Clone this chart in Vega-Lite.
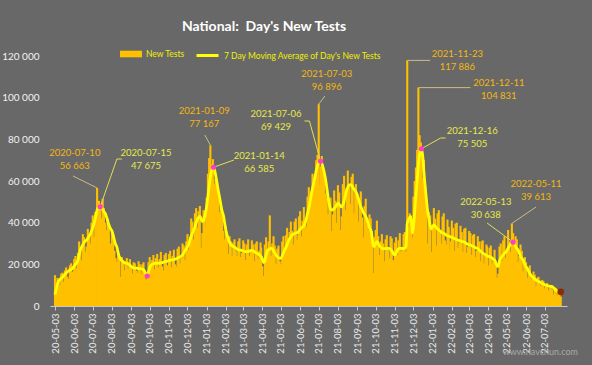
{
"$schema":"https://vega.github.io/schema/vega-lite/v6.json",
"width":517,"height":250,
"autosize":{"type":"none"},
"padding":{"left":50,"top":56,"right":25,"bottom":59},
"background":"#686868",
"title":{"text":"National:\u00a0 Day's New Tests","anchor":"start","frame":"group","dx":132,"offset":9,"font":"Lato","fontSize":14,"fontWeight":"bold","color":"#ffffff"},
"config":{"view":{"stroke":null},"font":"Lato","axisX":{"labelOverlap":false}},
"datasets":{
"main":[
{"d":"2020-05-03","v":14800,"m":5500},{"d":"2020-05-05","v":11000,"m":8000},{"d":"2020-05-07","v":13500,"m":10500},{"d":"2020-05-09","v":12500,"m":12000},{"d":"2020-05-11","v":10000,"m":12800},{"d":"2020-05-13","v":15500,"m":13300},{"d":"2020-05-15","v":16000,"m":13800},{"d":"2020-05-17","v":11500,"m":14500},{"d":"2020-05-19","v":17000,"m":15200},{"d":"2020-05-21","v":18500,"m":15800},{"d":"2020-05-23","v":14000,"m":16400},{"d":"2020-05-25","v":13000,"m":16800},{"d":"2020-05-27","v":19500,"m":17300},{"d":"2020-05-29","v":20500,"m":17600},{"d":"2020-05-31","v":15500,"m":18000},
{"d":"2020-06-01","v":16500,"m":18300},{"d":"2020-06-03","v":22500,"m":19200},{"d":"2020-06-05","v":24000,"m":20000},{"d":"2020-06-07","v":18000,"m":20600},{"d":"2020-06-09","v":25500,"m":22000},{"d":"2020-06-11","v":31000,"m":24500},{"d":"2020-06-13","v":27000,"m":27000},{"d":"2020-06-15","v":22000,"m":28300},{"d":"2020-06-17","v":34500,"m":29500},{"d":"2020-06-19","v":33000,"m":30500},{"d":"2020-06-21","v":26000,"m":31200},{"d":"2020-06-23","v":28500,"m":31700},{"d":"2020-06-25","v":37000,"m":32500},{"d":"2020-06-27","v":33500,"m":33500},{"d":"2020-06-29","v":30000,"m":34500},
{"d":"2020-07-01","v":40000,"m":36000},{"d":"2020-07-03","v":43500,"m":37500},{"d":"2020-07-05","v":33000,"m":39500},{"d":"2020-07-07","v":45000,"m":42000},{"d":"2020-07-10","v":56663,"m":46000},{"d":"2020-07-11","v":44000,"m":46800},{"d":"2020-07-13","v":50500,"m":47300},{"d":"2020-07-15","v":49000,"m":47675},{"d":"2020-07-17","v":42000,"m":47400},{"d":"2020-07-19","v":51500,"m":46300},{"d":"2020-07-21","v":47000,"m":45300},{"d":"2020-07-23","v":40000,"m":44600},{"d":"2020-07-25","v":36500,"m":43000},{"d":"2020-07-27","v":42000,"m":41000},{"d":"2020-07-29","v":38500,"m":39000},{"d":"2020-07-31","v":30000,"m":37500},
{"d":"2020-08-01","v":28000,"m":37000},{"d":"2020-08-03","v":35000,"m":36000},{"d":"2020-08-05","v":31000,"m":34000},{"d":"2020-08-07","v":26500,"m":31500},{"d":"2020-08-09","v":23000,"m":29500},{"d":"2020-08-11","v":21000,"m":28300},{"d":"2020-08-13","v":26000,"m":25500},{"d":"2020-08-15","v":24000,"m":23500},{"d":"2020-08-17","v":14000,"m":22500},{"d":"2020-08-19","v":23500,"m":21800},{"d":"2020-08-21","v":22000,"m":21200},{"d":"2020-08-23","v":17000,"m":20800},{"d":"2020-08-25","v":21500,"m":20600},{"d":"2020-08-27","v":23000,"m":20500},{"d":"2020-08-29","v":18000,"m":20200},{"d":"2020-08-31","v":21000,"m":19800},
{"d":"2020-09-01","v":22500,"m":19500},{"d":"2020-09-03","v":19500,"m":19000},{"d":"2020-09-05","v":15500,"m":18600},{"d":"2020-09-07","v":21000,"m":18300},{"d":"2020-09-09","v":20500,"m":18200},{"d":"2020-09-11","v":17000,"m":18200},{"d":"2020-09-13","v":16000,"m":18100},{"d":"2020-09-15","v":21500,"m":18000},{"d":"2020-09-17","v":20000,"m":17900},{"d":"2020-09-19","v":15500,"m":17800},{"d":"2020-09-21","v":20000,"m":17700},{"d":"2020-09-23","v":21000,"m":17500},{"d":"2020-09-25","v":17000,"m":16500},{"d":"2020-09-27","v":12500,"m":15300},{"d":"2020-09-29","v":15500,"m":14400},
{"d":"2020-10-01","v":21000,"m":16200},{"d":"2020-10-03","v":23500,"m":18500},{"d":"2020-10-05","v":19500,"m":19500},{"d":"2020-10-07","v":22000,"m":20000},{"d":"2020-10-09","v":24500,"m":20300},{"d":"2020-10-11","v":17500,"m":20500},{"d":"2020-10-13","v":23000,"m":20600},{"d":"2020-10-15","v":25000,"m":20600},{"d":"2020-10-17","v":18500,"m":20500},{"d":"2020-10-19","v":22500,"m":20600},{"d":"2020-10-21","v":26000,"m":20700},{"d":"2020-10-23","v":19000,"m":20800},{"d":"2020-10-25","v":17000,"m":21000},{"d":"2020-10-27","v":24500,"m":21200},{"d":"2020-10-29","v":25500,"m":21400},{"d":"2020-10-31","v":19500,"m":21500},
{"d":"2020-11-01","v":18500,"m":21600},{"d":"2020-11-03","v":25000,"m":21800},{"d":"2020-11-05","v":26500,"m":22000},{"d":"2020-11-07","v":18500,"m":22100},{"d":"2020-11-09","v":24000,"m":22200},{"d":"2020-11-11","v":27000,"m":22300},{"d":"2020-11-13","v":20000,"m":22500},{"d":"2020-11-15","v":19000,"m":22700},{"d":"2020-11-17","v":27500,"m":23000},{"d":"2020-11-19","v":28500,"m":23300},{"d":"2020-11-21","v":20500,"m":23600},{"d":"2020-11-23","v":23000,"m":24000},{"d":"2020-11-25","v":30000,"m":24500},{"d":"2020-11-27","v":29000,"m":25500},{"d":"2020-11-29","v":22000,"m":26500},
{"d":"2020-12-01","v":31000,"m":27500},{"d":"2020-12-03","v":34500,"m":28500},{"d":"2020-12-05","v":27000,"m":29500},{"d":"2020-12-07","v":33000,"m":31500},{"d":"2020-12-09","v":42000,"m":33500},{"d":"2020-12-11","v":40500,"m":35000},{"d":"2020-12-13","v":32000,"m":36500},{"d":"2020-12-15","v":44500,"m":38000},{"d":"2020-12-17","v":47000,"m":40000},{"d":"2020-12-19","v":37500,"m":41500},{"d":"2020-12-21","v":45500,"m":42500},{"d":"2020-12-23","v":48000,"m":43000},{"d":"2020-12-25","v":28000,"m":42000},{"d":"2020-12-27","v":35000,"m":40500},{"d":"2020-12-29","v":46000,"m":41000},{"d":"2020-12-31","v":42000,"m":43000},
{"d":"2021-01-01","v":38000,"m":44500},{"d":"2021-01-03","v":52000,"m":48000},{"d":"2021-01-05","v":63500,"m":52500},{"d":"2021-01-07","v":71000,"m":57500},{"d":"2021-01-09","v":77167,"m":62000},{"d":"2021-01-11","v":68000,"m":65000},{"d":"2021-01-13","v":70500,"m":66300},{"d":"2021-01-14","v":61000,"m":66585},{"d":"2021-01-16","v":58500,"m":65000},{"d":"2021-01-18","v":62000,"m":62000},{"d":"2021-01-20","v":59500,"m":58500},{"d":"2021-01-22","v":52000,"m":55000},{"d":"2021-01-24","v":45000,"m":52000},{"d":"2021-01-26","v":47500,"m":48500},{"d":"2021-01-28","v":43000,"m":45500},{"d":"2021-01-30","v":36000,"m":43500},
{"d":"2021-02-01","v":32000,"m":40000},{"d":"2021-02-03","v":38000,"m":36500},{"d":"2021-02-05","v":34500,"m":34000},{"d":"2021-02-07","v":25000,"m":32000},{"d":"2021-02-09","v":33500,"m":30500},{"d":"2021-02-11","v":31000,"m":29500},{"d":"2021-02-13","v":24000,"m":29000},{"d":"2021-02-15","v":30500,"m":28500},{"d":"2021-02-17","v":32000,"m":28300},{"d":"2021-02-19","v":26500,"m":27800},{"d":"2021-02-21","v":24000,"m":27300},{"d":"2021-02-23","v":31000,"m":27000},{"d":"2021-02-25","v":32500,"m":26900},{"d":"2021-02-27","v":23500,"m":26800},
{"d":"2021-03-01","v":25500,"m":26600},{"d":"2021-03-03","v":31500,"m":26400},{"d":"2021-03-05","v":30000,"m":26200},{"d":"2021-03-07","v":22000,"m":26100},{"d":"2021-03-09","v":29500,"m":26100},{"d":"2021-03-11","v":32000,"m":26200},{"d":"2021-03-13","v":24000,"m":26400},{"d":"2021-03-15","v":27000,"m":26600},{"d":"2021-03-17","v":31500,"m":26700},{"d":"2021-03-19","v":29500,"m":26500},{"d":"2021-03-21","v":21500,"m":26000},{"d":"2021-03-23","v":30000,"m":25600},{"d":"2021-03-25","v":31000,"m":25300},{"d":"2021-03-27","v":22500,"m":25000},{"d":"2021-03-29","v":26500,"m":24600},{"d":"2021-03-31","v":30500,"m":24000},
{"d":"2021-04-01","v":28000,"m":23700},{"d":"2021-04-03","v":19000,"m":22500},{"d":"2021-04-05","v":14500,"m":20800},{"d":"2021-04-07","v":29500,"m":21800},{"d":"2021-04-09","v":33000,"m":24500},{"d":"2021-04-11","v":27500,"m":26500},{"d":"2021-04-13","v":31000,"m":27000},{"d":"2021-04-15","v":43500,"m":27500},{"d":"2021-04-17","v":24000,"m":27700},{"d":"2021-04-19","v":30000,"m":27500},{"d":"2021-04-21","v":33500,"m":26500},{"d":"2021-04-23","v":29000,"m":25500},{"d":"2021-04-25","v":20000,"m":24500},{"d":"2021-04-27","v":27500,"m":23700},{"d":"2021-04-29","v":29000,"m":23200},
{"d":"2021-05-01","v":21500,"m":22900},{"d":"2021-05-03","v":20000,"m":23000},{"d":"2021-05-05","v":31000,"m":24000},{"d":"2021-05-07","v":33500,"m":25500},{"d":"2021-05-09","v":26000,"m":26800},{"d":"2021-05-11","v":34000,"m":28000},{"d":"2021-05-13","v":37500,"m":29500},{"d":"2021-05-15","v":30000,"m":31000},{"d":"2021-05-17","v":35500,"m":32300},{"d":"2021-05-19","v":40500,"m":33200},{"d":"2021-05-21","v":36000,"m":34000},{"d":"2021-05-23","v":29500,"m":34500},{"d":"2021-05-25","v":40500,"m":34800},{"d":"2021-05-27","v":42000,"m":35000},{"d":"2021-05-29","v":31500,"m":35200},{"d":"2021-05-31","v":34000,"m":35500},
{"d":"2021-06-01","v":43000,"m":36000},{"d":"2021-06-03","v":45500,"m":36800},{"d":"2021-06-05","v":33500,"m":37500},{"d":"2021-06-07","v":41000,"m":38000},{"d":"2021-06-09","v":47500,"m":38500},{"d":"2021-06-11","v":40000,"m":40000},{"d":"2021-06-13","v":38000,"m":42000},{"d":"2021-06-15","v":52500,"m":44500},{"d":"2021-06-17","v":57000,"m":47000},{"d":"2021-06-19","v":49000,"m":50000},{"d":"2021-06-21","v":55000,"m":53500},{"d":"2021-06-23","v":63500,"m":56500},{"d":"2021-06-25","v":60000,"m":59000},{"d":"2021-06-27","v":59000,"m":62000},{"d":"2021-06-29","v":70000,"m":65000},
{"d":"2021-07-01","v":72500,"m":67500},{"d":"2021-07-03","v":96896,"m":68800},{"d":"2021-07-05","v":58000,"m":69200},{"d":"2021-07-06","v":67000,"m":69429},{"d":"2021-07-08","v":72000,"m":68500},{"d":"2021-07-10","v":65000,"m":66500},{"d":"2021-07-12","v":60500,"m":64000},{"d":"2021-07-14","v":54000,"m":61000},{"d":"2021-07-16","v":52000,"m":57000},{"d":"2021-07-18","v":44000,"m":52500},{"d":"2021-07-20","v":49500,"m":49000},{"d":"2021-07-22","v":52000,"m":46500},{"d":"2021-07-24","v":36000,"m":46000},{"d":"2021-07-26","v":44000,"m":46300},{"d":"2021-07-28","v":55500,"m":46800},{"d":"2021-07-30","v":50500,"m":47500},
{"d":"2021-08-01","v":40000,"m":48500},{"d":"2021-08-03","v":58000,"m":49300},{"d":"2021-08-05","v":54500,"m":48800},{"d":"2021-08-07","v":36500,"m":48000},{"d":"2021-08-09","v":43000,"m":47600},{"d":"2021-08-11","v":58500,"m":48500},{"d":"2021-08-13","v":62500,"m":50500},{"d":"2021-08-15","v":46000,"m":53000},{"d":"2021-08-17","v":56500,"m":55500},{"d":"2021-08-19","v":65000,"m":57000},{"d":"2021-08-21","v":58000,"m":58000},{"d":"2021-08-23","v":49000,"m":58200},{"d":"2021-08-25","v":62000,"m":58000},{"d":"2021-08-27","v":63500,"m":57000},{"d":"2021-08-29","v":44500,"m":56000},{"d":"2021-08-31","v":55000,"m":55300},
{"d":"2021-09-01","v":58500,"m":54900},{"d":"2021-09-03","v":53000,"m":53500},{"d":"2021-09-05","v":40500,"m":51500},{"d":"2021-09-07","v":52000,"m":49500},{"d":"2021-09-09","v":55000,"m":47600},{"d":"2021-09-11","v":42500,"m":46300},{"d":"2021-09-13","v":33000,"m":45000},{"d":"2021-09-15","v":48000,"m":44000},{"d":"2021-09-17","v":51500,"m":42900},{"d":"2021-09-19","v":39000,"m":41500},{"d":"2021-09-21","v":36500,"m":39500},{"d":"2021-09-23","v":44000,"m":37500},{"d":"2021-09-25","v":42000,"m":36500},{"d":"2021-09-27","v":36000,"m":33500},{"d":"2021-09-29","v":15800,"m":29000},
{"d":"2021-10-01","v":33000,"m":28500},{"d":"2021-10-03","v":36500,"m":30000},{"d":"2021-10-05","v":41000,"m":30900},{"d":"2021-10-07","v":33500,"m":30000},{"d":"2021-10-09","v":24500,"m":29000},{"d":"2021-10-11","v":31000,"m":28300},{"d":"2021-10-13","v":34500,"m":27700},{"d":"2021-10-15","v":30000,"m":27500},{"d":"2021-10-17","v":21500,"m":27500},{"d":"2021-10-19","v":32000,"m":27600},{"d":"2021-10-21","v":34000,"m":27700},{"d":"2021-10-23","v":27000,"m":27700},{"d":"2021-10-25","v":23000,"m":27600},{"d":"2021-10-27","v":33500,"m":27300},{"d":"2021-10-29","v":32500,"m":26500},{"d":"2021-10-31","v":22000,"m":25500},
{"d":"2021-11-01","v":17500,"m":24800},{"d":"2021-11-03","v":30500,"m":24500},{"d":"2021-11-05","v":33000,"m":25500},{"d":"2021-11-07","v":24500,"m":26800},{"d":"2021-11-09","v":31500,"m":27500},{"d":"2021-11-11","v":35000,"m":27700},{"d":"2021-11-13","v":26000,"m":27700},{"d":"2021-11-15","v":27500,"m":27600},{"d":"2021-11-17","v":34500,"m":27600},{"d":"2021-11-19","v":35500,"m":27700},{"d":"2021-11-21","v":26000,"m":28500},{"d":"2021-11-23","v":117886,"m":39500},{"d":"2021-11-25","v":38000,"m":41500},{"d":"2021-11-27","v":44500,"m":42500},{"d":"2021-11-29","v":37000,"m":43000},
{"d":"2021-12-01","v":33000,"m":35000},{"d":"2021-12-03","v":52500,"m":38000},{"d":"2021-12-05","v":60000,"m":45000},{"d":"2021-12-07","v":66500,"m":53000},{"d":"2021-12-09","v":75000,"m":60000},{"d":"2021-12-11","v":104831,"m":68000},{"d":"2021-12-13","v":82000,"m":73000},{"d":"2021-12-15","v":78500,"m":75200},{"d":"2021-12-16","v":72000,"m":75505},{"d":"2021-12-18","v":61500,"m":72000},{"d":"2021-12-20","v":70000,"m":64000},{"d":"2021-12-22","v":58000,"m":57300},{"d":"2021-12-24","v":46000,"m":51000},{"d":"2021-12-26","v":30000,"m":45500},{"d":"2021-12-28","v":45000,"m":42000},{"d":"2021-12-30","v":43500,"m":38500},
{"d":"2022-01-01","v":26000,"m":37000},{"d":"2022-01-03","v":39000,"m":38000},{"d":"2022-01-05","v":47000,"m":38900},{"d":"2022-01-07","v":42000,"m":38500},{"d":"2022-01-09","v":29000,"m":37500},{"d":"2022-01-11","v":44500,"m":37000},{"d":"2022-01-13","v":46000,"m":36500},{"d":"2022-01-15","v":36500,"m":36000},{"d":"2022-01-17","v":30000,"m":35500},{"d":"2022-01-19","v":43000,"m":35000},{"d":"2022-01-21","v":44500,"m":34900},{"d":"2022-01-23","v":31500,"m":34500},{"d":"2022-01-25","v":29500,"m":34000},{"d":"2022-01-27","v":41500,"m":33700},{"d":"2022-01-29","v":38000,"m":33500},{"d":"2022-01-31","v":27000,"m":33300},
{"d":"2022-02-01","v":31000,"m":33200},{"d":"2022-02-03","v":41000,"m":33000},{"d":"2022-02-05","v":37500,"m":32700},{"d":"2022-02-07","v":26500,"m":32400},{"d":"2022-02-09","v":39500,"m":32100},{"d":"2022-02-11","v":40000,"m":31800},{"d":"2022-02-13","v":28000,"m":31600},{"d":"2022-02-15","v":30500,"m":31400},{"d":"2022-02-17","v":38500,"m":31200},{"d":"2022-02-19","v":35500,"m":31000},{"d":"2022-02-21","v":26000,"m":30900},{"d":"2022-02-23","v":37000,"m":30700},{"d":"2022-02-25","v":37500,"m":30300},{"d":"2022-02-27","v":25500,"m":29900},
{"d":"2022-03-01","v":28500,"m":29600},{"d":"2022-03-03","v":36000,"m":29400},{"d":"2022-03-05","v":35000,"m":29300},{"d":"2022-03-07","v":24500,"m":29000},{"d":"2022-03-09","v":34000,"m":28700},{"d":"2022-03-11","v":34500,"m":28400},{"d":"2022-03-13","v":23500,"m":28000},{"d":"2022-03-15","v":26500,"m":27800},{"d":"2022-03-17","v":33500,"m":27500},{"d":"2022-03-19","v":31000,"m":27000},{"d":"2022-03-21","v":21500,"m":26400},{"d":"2022-03-23","v":31000,"m":25900},{"d":"2022-03-25","v":31500,"m":25400},{"d":"2022-03-27","v":20500,"m":25000},{"d":"2022-03-29","v":24000,"m":24600},{"d":"2022-03-31","v":29500,"m":24300},
{"d":"2022-04-01","v":28500,"m":24000},{"d":"2022-04-03","v":19500,"m":23800},{"d":"2022-04-05","v":28000,"m":23700},{"d":"2022-04-07","v":29000,"m":23500},{"d":"2022-04-09","v":20500,"m":23000},{"d":"2022-04-11","v":22000,"m":22500},{"d":"2022-04-13","v":27000,"m":22100},{"d":"2022-04-15","v":19000,"m":20800},{"d":"2022-04-17","v":13500,"m":19200},{"d":"2022-04-19","v":15500,"m":19000},{"d":"2022-04-21","v":28500,"m":21500},{"d":"2022-04-23","v":30000,"m":23000},{"d":"2022-04-25","v":21500,"m":23800},{"d":"2022-04-27","v":31500,"m":24500},{"d":"2022-04-29","v":33500,"m":25300},
{"d":"2022-05-01","v":23000,"m":25800},{"d":"2022-05-03","v":26500,"m":26500},{"d":"2022-05-05","v":36500,"m":27800},{"d":"2022-05-07","v":31000,"m":28800},{"d":"2022-05-09","v":26000,"m":29700},{"d":"2022-05-11","v":39613,"m":30300},{"d":"2022-05-13","v":35000,"m":30638},{"d":"2022-05-15","v":28000,"m":30000},{"d":"2022-05-17","v":33500,"m":28500},{"d":"2022-05-19","v":32000,"m":27500},{"d":"2022-05-21","v":21000,"m":26900},{"d":"2022-05-23","v":24000,"m":25500},{"d":"2022-05-25","v":29500,"m":24000},{"d":"2022-05-27","v":26500,"m":22800},{"d":"2022-05-29","v":16500,"m":22100},{"d":"2022-05-31","v":20500,"m":20500},
{"d":"2022-06-01","v":23500,"m":19800},{"d":"2022-06-03","v":21000,"m":18800},{"d":"2022-06-05","v":13500,"m":17800},{"d":"2022-06-07","v":18500,"m":16800},{"d":"2022-06-09","v":19500,"m":15600},{"d":"2022-06-11","v":13000,"m":14700},{"d":"2022-06-13","v":14500,"m":14100},{"d":"2022-06-15","v":16500,"m":13500},{"d":"2022-06-17","v":15000,"m":12900},{"d":"2022-06-19","v":9500,"m":12400},{"d":"2022-06-21","v":13500,"m":12100},{"d":"2022-06-23","v":14000,"m":11800},{"d":"2022-06-25","v":10500,"m":11500},{"d":"2022-06-27","v":9500,"m":11100},{"d":"2022-06-29","v":12500,"m":10800},
{"d":"2022-07-01","v":12000,"m":10500},{"d":"2022-07-03","v":8500,"m":10200},{"d":"2022-07-05","v":10500,"m":10000},{"d":"2022-07-07","v":11000,"m":9800},{"d":"2022-07-09","v":7500,"m":9600},{"d":"2022-07-11","v":9000,"m":9500},{"d":"2022-07-13","v":10000,"m":9400},{"d":"2022-07-15","v":8000,"m":9300},{"d":"2022-07-17","v":5500,"m":8800},{"d":"2022-07-19","v":9000,"m":8200},{"d":"2022-07-21","v":8500,"m":7800},{"d":"2022-07-23","v":5000,"m":7200},{"d":"2022-07-25","v":7000,"m":7000},{"d":"2022-07-27","v":6500,"m":6900},{"d":"2022-07-29","v":4500,"m":6800}
],
"leaders":[
{"g":1,"k":"b","d":"2020-07-10","v":56663},{"g":1,"k":"b","d":"2020-06-01","v":62400},
{"g":2,"k":"a","d":"2020-07-15","v":47675},{"g":2,"k":"a","d":"2020-08-11","v":70560},{"g":2,"k":"a","d":"2020-08-19","v":70560},
{"g":3,"k":"b","d":"2021-01-09","v":77167},{"g":3,"k":"b","d":"2020-12-31","v":82080},
{"g":4,"k":"a","d":"2021-01-14","v":66585},{"g":4,"k":"a","d":"2021-02-16","v":70080},
{"g":5,"k":"b","d":"2021-07-03","v":96896},{"g":5,"k":"b","d":"2021-07-13","v":100800},
{"g":6,"k":"a","d":"2021-07-06","v":69429},{"g":6,"k":"a","d":"2021-06-18","v":88800},{"g":6,"k":"a","d":"2021-06-10","v":88800},
{"g":7,"k":"b","d":"2021-11-23","v":117886},{"g":7,"k":"b","d":"2021-12-30","v":117886},
{"g":8,"k":"b","d":"2021-12-11","v":104831},{"g":8,"k":"b","d":"2022-03-05","v":104831},
{"g":9,"k":"a","d":"2021-12-16","v":75505},{"g":9,"k":"a","d":"2022-01-16","v":80640},{"g":9,"k":"a","d":"2022-01-24","v":80640},
{"g":10,"k":"a","d":"2022-05-13","v":30638},{"g":10,"k":"a","d":"2022-04-01","v":39840},
{"g":11,"k":"b","d":"2022-05-11","v":39613},{"g":11,"k":"b","d":"2022-06-19","v":47520}
],
"dots":[
{"d":"2020-07-15","m":47675,"k":"a"},{"d":"2020-09-29","m":14400,"k":"a"},{"d":"2021-01-14","m":66585,"k":"a"},{"d":"2021-07-06","m":69429,"k":"a"},{"d":"2021-12-16","m":75505,"k":"a"},{"d":"2022-05-13","m":30638,"k":"a"},{"d":"2022-07-29","m":6800,"k":"last"}
],
"labels":[
{"d":"2020-06-04","v":75840,"k":"b","t":"2020-07-10\n56 663"},
{"d":"2020-09-27","v":75840,"k":"a","t":"2020-07-15\n47 675"},
{"d":"2020-12-30","v":96000,"k":"b","t":"2021-01-09\n77 167"},
{"d":"2021-03-29","v":74400,"k":"a","t":"2021-01-14\n66 585"},
{"d":"2021-07-16","v":113760,"k":"b","t":"2021-07-03\n96 896"},
{"d":"2021-04-25","v":94560,"k":"a","t":"2021-07-06\n69 429"},
{"d":"2022-02-12","v":123360,"k":"b","t":"2021-11-23\n117 886"},
{"d":"2022-04-20","v":109440,"k":"b","t":"2021-12-11\n104 831"},
{"d":"2022-03-08","v":86400,"k":"a","t":"2021-12-16\n75 505"},
{"d":"2022-03-30","v":52320,"k":"a","t":"2022-05-13\n30 638"},
{"d":"2022-06-19","v":60960,"k":"b","t":"2022-05-11\n39 613"}
],
"wm":[{"d":"2022-06-26","v":-22000,"t":"www.navchun.com"}]
},
"encoding":{
 "x":{"field":"d","type":"temporal",
  "scale":{"type":"utc","domain":[{"year":2020,"month":5,"date":3,"utc":true},{"year":2022,"month":7,"date":31,"utc":true}],"nice":false},
  "axis":{"title":null,"grid":false,"format":"%y-%m-%d","labelAngle":-90,"labelColor":"#e8e8e8","labelFontSize":9.5,"labelFont":"Lato","domainColor":"#c8c8c8","tickColor":"#c8c8c8","tickSize":4,"labelPadding":3,"labelOverlap":false,"labelSeparation":0,
   "values":[{"year":2020,"month":5,"date":3,"utc":true},{"year":2020,"month":6,"date":3,"utc":true},{"year":2020,"month":7,"date":3,"utc":true},{"year":2020,"month":8,"date":3,"utc":true},{"year":2020,"month":9,"date":3,"utc":true},{"year":2020,"month":10,"date":3,"utc":true},{"year":2020,"month":11,"date":3,"utc":true},{"year":2020,"month":12,"date":3,"utc":true},{"year":2021,"month":1,"date":3,"utc":true},{"year":2021,"month":2,"date":3,"utc":true},{"year":2021,"month":3,"date":3,"utc":true},{"year":2021,"month":4,"date":3,"utc":true},{"year":2021,"month":5,"date":3,"utc":true},{"year":2021,"month":6,"date":3,"utc":true},{"year":2021,"month":7,"date":3,"utc":true},{"year":2021,"month":8,"date":3,"utc":true},{"year":2021,"month":9,"date":3,"utc":true},{"year":2021,"month":10,"date":3,"utc":true},{"year":2021,"month":11,"date":3,"utc":true},{"year":2021,"month":12,"date":3,"utc":true},{"year":2022,"month":1,"date":3,"utc":true},{"year":2022,"month":2,"date":3,"utc":true},{"year":2022,"month":3,"date":3,"utc":true},{"year":2022,"month":4,"date":3,"utc":true},{"year":2022,"month":5,"date":3,"utc":true},{"year":2022,"month":6,"date":3,"utc":true},{"year":2022,"month":7,"date":3,"utc":true}]}}
},
"layer":[
{"data":{"name":"main"},
 "mark":{"type":"bar","width":2.1,"color":"#ffc000"},
 "encoding":{
  "y":{"field":"v","type":"quantitative",
   "scale":{"domain":[0,120000],"nice":false},
   "axis":{"title":null,"grid":false,"ticks":false,"domain":false,"values":[0,20000,40000,60000,80000,100000,120000],"labelExpr":"replace(format(datum.value, ','), ',', ' ')","labelColor":"#f2f2f2","labelFontSize":10,"labelFont":"Lato","labelPadding":11}},
  "color":{"datum":"New Tests","scale":{"range":["#ffc000"]},
   "legend":{"title":null,"orient":"none","legendX":70,"legendY":-13,"symbolType":"M-1,-0.3H1V0.3H-1Z","symbolSize":484,"symbolStrokeWidth":0,"labelColor":"#f0f000","labelFontSize":8.5,"labelFont":"Lato"}}
 }},
{"data":{"name":"main"},
 "mark":{"type":"line","strokeWidth":2.8,"interpolate":"monotone"},
 "encoding":{
  "y":{"field":"m","type":"quantitative"},
  "stroke":{"datum":"7 Day Moving Average of Day's New Tests","scale":{"range":["#ffff00"]},
   "legend":{"title":null,"orient":"none","legendX":145,"legendY":-13,"symbolType":"stroke","symbolSize":484,"symbolStrokeWidth":3,"labelColor":"#f0f000","labelFontSize":8.5,"labelFont":"Lato"}}
 }},
{"data":{"name":"leaders"},
 "mark":{"type":"line","strokeWidth":1,"interpolate":"linear"},
 "encoding":{
  "y":{"field":"v","type":"quantitative"},
  "detail":{"field":"g"},
  "color":{"condition":{"test":"datum.k=='b'","value":"#cdbb80"},"value":"#e0e050"}
 }},
{"data":{"name":"dots"},
 "mark":{"type":"point","filled":true,"shape":"circle","opacity":1},
 "encoding":{
  "y":{"field":"m","type":"quantitative"},
  "color":{"condition":{"test":"datum.k=='last'","value":"#8b2c05"},"value":"#ff3ccf"},
  "size":{"condition":{"test":"datum.k=='last'","value":45},"value":26}
 }},
{"data":{"name":"labels"},
 "mark":{"type":"text","align":"center","baseline":"top","lineBreak":"\n","lineHeight":13,"fontSize":9.5,"font":"Lato"},
 "encoding":{
  "y":{"field":"v","type":"quantitative"},
  "text":{"field":"t"},
  "color":{"condition":{"test":"datum.k=='b'","value":"#f5b70f"},"value":"#e8e84a"}
 }},
{"data":{"name":"wm"},
 "mark":{"type":"text","fontSize":9,"font":"Lato","color":"#a8a8a8"},
 "encoding":{
  "y":{"field":"v","type":"quantitative"},
  "text":{"field":"t"}
 }}
]
}
